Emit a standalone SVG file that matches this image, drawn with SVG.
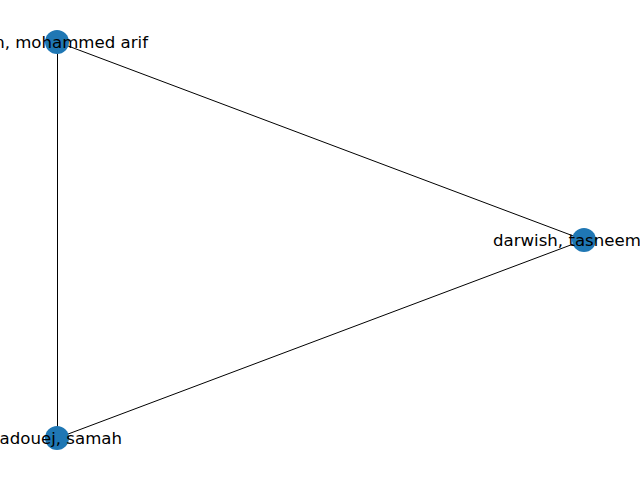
<svg xmlns="http://www.w3.org/2000/svg" width="640" height="480" viewBox="0 0 640 480">
<style>
.node{fill:#1f77b4;}
.lbl{font-family:"DejaVu Sans",sans-serif;font-size:16.6px;fill:#000;}
.edge{stroke:#000;stroke-width:1;fill:none;}
</style>
<rect width="640" height="480" fill="#fff"/>
<g id="edges">
<line class="edge" x1="57.5" y1="42" x2="584" y2="240"/>
<line class="edge" x1="57.5" y1="42" x2="57.5" y2="438"/>
<line class="edge" x1="584" y1="240" x2="57.5" y2="438"/>
</g>
<g id="node-arif">
<circle class="node" cx="57" cy="42" r="12"/>
<text class="lbl" x="148" y="47.5" text-anchor="end">n, mohammed arif</text>
</g>
<g id="node-tasneem">
<circle class="node" cx="584" cy="240" r="12"/>
<text class="lbl" x="493" y="245.5">darwish, tasneem</text>
</g>
<g id="node-samah">
<circle class="node" cx="57" cy="438" r="12"/>
<text class="lbl" x="122" y="443.5" text-anchor="end">adouej, samah</text>
</g>
</svg>
